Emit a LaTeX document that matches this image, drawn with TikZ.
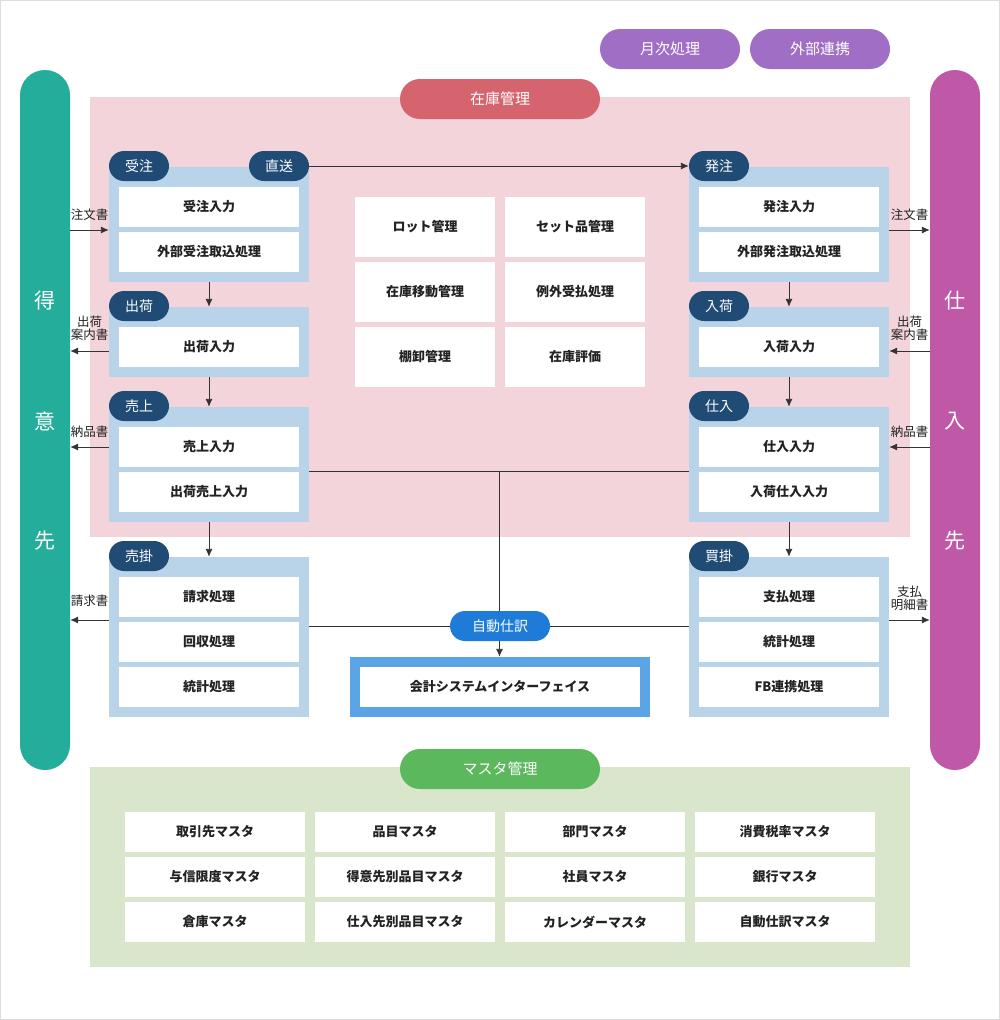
\documentclass[tikz,border=0pt]{standalone}
\usepackage{fontspec}
\setmainfont{Noto Sans CJK JP}
\usetikzlibrary{arrows.meta}
\definecolor{teal}{HTML}{24AD9B}
\definecolor{magbar}{HTML}{C058A8}
\definecolor{purp}{HTML}{A06EC4}
\definecolor{pinkarea}{HTML}{F3D4DA}
\definecolor{redpill}{HTML}{D6646F}
\definecolor{grpblue}{HTML}{B9D3E8}
\definecolor{navy}{HTML}{1F4B75}
\definecolor{autoblue}{HTML}{1E7BD8}
\definecolor{ifblue}{HTML}{5BA5E6}
\definecolor{greenarea}{HTML}{D9E6CB}
\definecolor{greenpill}{HTML}{5CB85C}
\definecolor{lncol}{HTML}{333333}
\definecolor{txt}{HTML}{222222}
\definecolor{frame}{HTML}{DDDDDD}
\begin{document}
\begin{tikzpicture}[x=1pt,y=-1pt,
  cell/.style={fill=white, inner sep=0pt, text=txt, font=\fontsize{13}{15}\selectfont\bfseries},
  grp/.style={fill=grpblue, inner sep=0pt, minimum width=200pt},
  tag/.style={fill=navy, text=white, rounded corners=15pt, minimum width=60pt, minimum height=30pt, inner sep=0pt, font=\fontsize{14}{16}\selectfont},
  bigpill/.style={rounded corners=20pt, minimum height=40pt, inner sep=0pt, text=white, font=\fontsize{15}{17}\selectfont},
  bar/.style={rounded corners=25pt, minimum width=50pt, minimum height=700pt, inner sep=0pt},
  bartxt/.style={text=white, inner sep=0pt, font=\fontsize{21}{23}\selectfont},
  area/.style={inner sep=0pt, minimum width=820pt},
  ln/.style={draw=lncol, line width=0.9pt},
  arr/.style={draw=lncol, line width=0.9pt, -{Latex[length=8pt,width=7pt]}},
  lbl/.style={text=txt, inner sep=0pt, align=center, font=\fontsize{12.5}{14}\selectfont}]
\useasboundingbox (0,0) rectangle (1000,1020);
\draw[frame, line width=1pt, fill=white] (0.5,0.5) rectangle (999.5,1019.5);

% areas
\node[area, fill=pinkarea, minimum height=440pt] (zaiko) at (500,317) {};
\node[area, fill=greenarea, minimum height=200pt] (master) at (500,867) {};

% side bars
\node[bar, fill=teal] (lbar) at (45,420) {};
\node[bar, fill=magbar] (rbar) at (955,420) {};
\node[bartxt] (l1) at (45,301) {得};
\node[bartxt] (l2) at (45,421) {意};
\node[bartxt] (l3) at (45,541) {先};
\node[bartxt] (r1) at (955,301) {仕};
\node[bartxt] (r2) at (955,421) {入};
\node[bartxt] (r3) at (955,541) {先};

% top pills
\node[bigpill, fill=purp, minimum width=140pt] (getsuji) at (670,49) {月次処理};
\node[bigpill, fill=purp, minimum width=140pt] (gaibu) at (820,49) {外部連携};
\node[bigpill, fill=redpill, minimum width=200pt] (zaikopill) at (500,99) {在庫管理};
\node[bigpill, fill=greenpill, minimum width=200pt] (masterpill) at (500,769) {マスタ管理};

% left groups
\node[grp, minimum height=115pt] (g1) at (209,224.5) {};
\node[grp, minimum height=70pt] (g2) at (209,342) {};
\node[grp, minimum height=115pt] (g3) at (209,464.5) {};
\node[grp, minimum height=160pt] (g4) at (209,637) {};
% right groups
\node[grp, minimum height=115pt] (h1) at (789,224.5) {};
\node[grp, minimum height=70pt] (h2) at (789,342) {};
\node[grp, minimum height=115pt] (h3) at (789,464.5) {};
\node[grp, minimum height=160pt] (h4) at (789,637) {};

\tikzset{sc/.style={cell, minimum width=180pt, minimum height=40pt}}
\node[sc] (c11) at (209,207) {受注入力};
\node[sc] (c12) at (209,252) {外部受注取込処理};
\node[sc] (c21) at (209,347) {出荷入力};
\node[sc] (c31) at (209,447) {売上入力};
\node[sc] (c32) at (209,492) {出荷売上入力};
\node[sc] (c41) at (209,597) {請求処理};
\node[sc] (c42) at (209,642) {回収処理};
\node[sc] (c43) at (209,687) {統計処理};
\node[sc] (d11) at (789,207) {発注入力};
\node[sc] (d12) at (789,252) {外部発注取込処理};
\node[sc] (d21) at (789,347) {入荷入力};
\node[sc] (d31) at (789,447) {仕入入力};
\node[sc] (d32) at (789,492) {入荷仕入入力};
\node[sc] (d41) at (789,597) {支払処理};
\node[sc] (d42) at (789,642) {統計処理};
\node[sc] (d43) at (789,687) {FB連携処理};

% middle grid
\tikzset{mc/.style={cell, minimum width=140pt, minimum height=60pt}}
\node[mc] (m1) at (425,227) {ロット管理};
\node[mc] (m2) at (575,227) {セット品管理};
\node[mc] (m3) at (425,292) {在庫移動管理};
\node[mc] (m4) at (575,292) {例外受払処理};
\node[mc] (m5) at (425,357) {棚卸管理};
\node[mc] (m6) at (575,357) {在庫評価};

% interface
\node[fill=ifblue, inner sep=0pt, minimum width=300pt, minimum height=60pt] (iface) at (500,687) {};
\node[cell, minimum width=280pt, minimum height=40pt] (ifin) at (500,687) {会計システムインターフェイス};

% master cells
\tikzset{kc/.style={cell, minimum width=180pt, minimum height=40pt}}
\node[kc] (k1) at (215,832) {取引先マスタ};
\node[kc] (k2) at (405,832) {品目マスタ};
\node[kc] (k3) at (595,832) {部門マスタ};
\node[kc] (k4) at (785,832) {消費税率マスタ};
\node[kc] (k5) at (215,877) {与信限度マスタ};
\node[kc] (k6) at (405,877) {得意先別品目マスタ};
\node[kc] (k7) at (595,877) {社員マスタ};
\node[kc] (k8) at (785,877) {銀行マスタ};
\node[kc] (k9) at (215,922) {倉庫マスタ};
\node[kc] (k10) at (405,922) {仕入先別品目マスタ};
\node[kc] (k11) at (595,922) {カレンダーマスタ};
\node[kc] (k12) at (785,922) {自動仕訳マスタ};

% connectors (inside)
\coordinate (j) at (499.5,471);
\draw[ln] (g3.east |- j) -- (h3.west |- j);
\draw[arr] (j) -- (j |- iface.north);
\draw[ln] (g4.east |- 0,626) -- (h4.west |- 0,626);
\draw[arr] (g1.south) -- (g2.north);
\draw[arr] (g2.south) -- (g3.north);
\draw[arr] (g3.south) -- (g4.north);
\draw[arr] (h1.south) -- (h2.north);
\draw[arr] (h2.south) -- (h3.north);
\draw[arr] (h3.south) -- (h4.north);

% tags
\node[tag] (t1) at (139,166) {受注};
\node[tag] (t1b) at (279,166) {直送};
\node[tag] (t2) at (139,306) {出荷};
\node[tag] (t3) at (139,406) {売上};
\node[tag] (t4) at (139,556) {売掛};
\node[tag] (u1) at (719,166) {発注};
\node[tag] (u2) at (719,306) {入荷};
\node[tag] (u3) at (719,406) {仕入};
\node[tag] (u4) at (719,556) {買掛};
\draw[arr] (t1b.east) -- (u1.west);

\node[fill=autoblue, text=white, rounded corners=15pt, minimum width=100pt, minimum height=30pt, inner sep=0pt, font=\fontsize{14}{16}\selectfont] (auto) at (500,626) {自動仕訳};

% side connectors
\draw[arr] (lbar.east |- 0,230) -- (g1.west |- 0,230);
\draw[arr] (g2.west |- 0,351) -- (lbar.east |- 0,351);
\draw[arr] (g3.west |- 0,447) -- (lbar.east |- 0,447);
\draw[arr] (g4.west |- 0,620) -- (lbar.east |- 0,620);
\draw[arr] (h1.east |- 0,230) -- (rbar.west |- 0,230);
\draw[arr] (rbar.west |- 0,351) -- (h2.east |- 0,351);
\draw[arr] (rbar.west |- 0,447) -- (h3.east |- 0,447);
\draw[arr] (h4.east |- 0,620) -- (rbar.west |- 0,620);

% labels
\node[lbl] (la1) at (89.5,215) {注文書};
\node[lbl] (la2) at (89.5,328) {出荷\\[-1pt]案内書};
\node[lbl] (la3) at (89.5,432) {納品書};
\node[lbl] (la4) at (89.5,601) {請求書};
\node[lbl] (ra1) at (909.5,215) {注文書};
\node[lbl] (ra2) at (909.5,328) {出荷\\[-1pt]案内書};
\node[lbl] (ra3) at (909.5,432) {納品書};
\node[lbl] (ra4) at (909.5,598) {支払\\[-1pt]明細書};
\end{tikzpicture}
\end{document}
